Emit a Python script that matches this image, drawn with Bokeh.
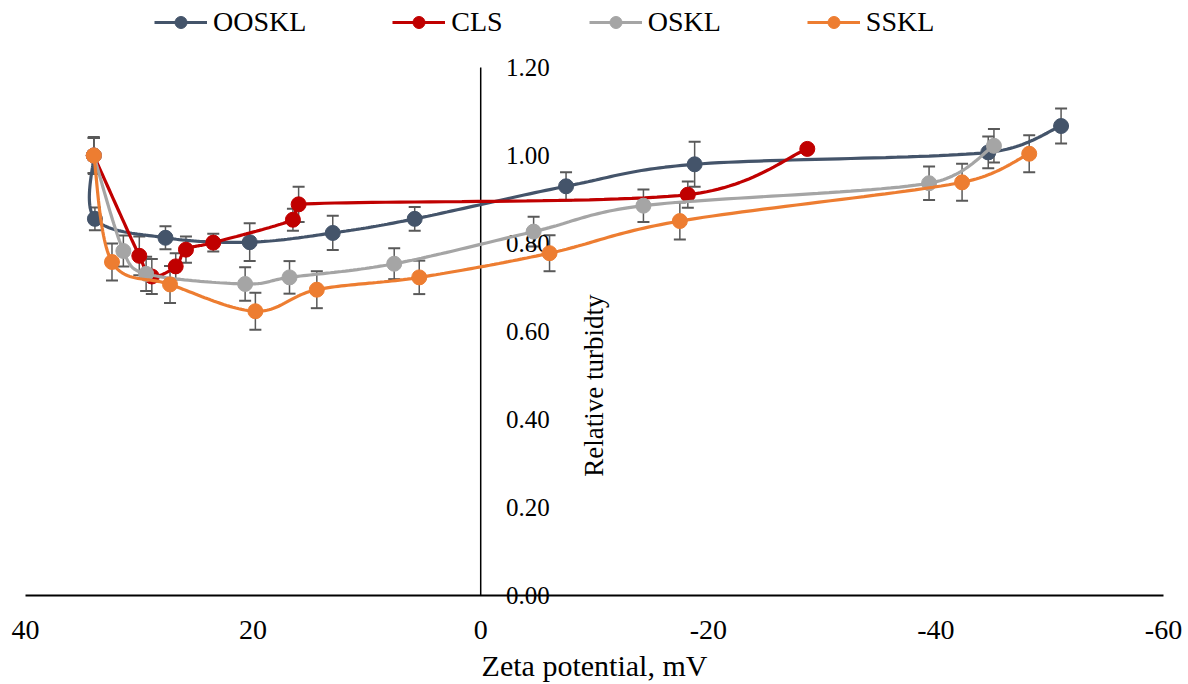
import numpy as np
from bokeh.plotting import figure
from bokeh.models import (Range1d, Legend, LegendItem,
                          ColumnDataSource, Whisker, TeeHead)
from bokeh.core.properties import value
from bokeh.embed import file_html
from bokeh.resources import INLINE

# ---------------- data ----------------
series_names = ["OOSKL", "CLS", "OSKL", "SSKL"]
series_colors = ["#44546A", "#C00000", "#A5A5A5", "#ED7D31"]

ooskl_x = [34.0, 33.9, 27.7, 20.3, 13.0, 5.8, -7.5, -18.8, -44.6, -51.0]
ooskl_y = [1.00, 0.856, 0.813, 0.803, 0.824, 0.856, 0.930, 0.980, 1.007, 1.067]
ooskl_err = [0.042, 0.026, 0.026, 0.043, 0.039, 0.027, 0.032, 0.051, 0.036, 0.040]

cls_x = [34.0, 30.0, 28.9, 26.8, 25.9, 23.5, 16.5, 16.0, -18.2, -28.7]
cls_y = [1.00, 0.772, 0.725, 0.748, 0.786, 0.802, 0.854, 0.889, 0.911, 1.015]
cls_err = [0.040, 0.044, 0.040, 0.030, 0.030, 0.020, 0.025, 0.040, 0.030, 0.0]

oskl_x = [34.0, 31.4, 29.4, 20.7, 16.8, 7.6, -4.65, -14.3, -39.4, -45.1]
oskl_y = [1.00, 0.783, 0.731, 0.708, 0.723, 0.754, 0.827, 0.886, 0.937, 1.022]
oskl_err = [0.040, 0.035, 0.039, 0.038, 0.037, 0.035, 0.034, 0.037, 0.038, 0.038]

sskl_x = [34.0, 32.4, 27.3, 19.8, 14.4, 5.4, -6.05, -17.5, -42.3, -48.2]
sskl_y = [1.00, 0.758, 0.707, 0.646, 0.695, 0.723, 0.778, 0.851, 0.939, 1.004]
sskl_err = [0.040, 0.042, 0.042, 0.042, 0.042, 0.038, 0.041, 0.042, 0.042, 0.042]

x_min, x_max = 40, -60          # axis limits (reversed axis)
y_min, y_max = 0.0, 1.2
x_ticks = [40, 20, 0, -20, -40, -60]
x_tick_labels = ["40", "20", "0", "-20", "-40", "-60"]
y_ticks = [0.0, 0.2, 0.4, 0.6, 0.8, 1.0, 1.2]
y_tick_labels = ["0.00", "0.20", "0.40", "0.60", "0.80", "1.00", "1.20"]

x_title = "Zeta potential, mV"
y_title = "Relative turbidty"

FONT = "Liberation Serif"

# ---------------- layout (pixels) ----------------
W, H = 1188, 684
PL, PR, PT, PB = 25, 25, 67, 89     # plot area inside the canvas
sx_per = (W - PL - PR) / (x_min - x_max)
sy_per = (H - PT - PB) / (y_max - y_min)
xr = Range1d(x_min + PL / sx_per, x_max - PR / sx_per)
yr = Range1d(y_min - PB / sy_per, y_max + PT / sy_per)


def smooth(xs, ys, n=30, kx=sx_per, ky=sy_per):
    """Excel-like smoothed line: cubic Bezier with 1/6 tangents,
    limited to half of the segment length (in screen units) to avoid loops."""
    P = np.column_stack([np.asarray(xs, float) * kx, np.asarray(ys, float) * ky])
    m = len(P)
    out = [P[0]]
    t = np.linspace(0, 1, n)[1:, None]

    def lim(v, seg_len):
        L = np.hypot(*v)
        cap = 0.5 * seg_len
        return v * (cap / L) if L > cap and L > 0 else v

    for i in range(m - 1):
        p0 = P[i - 1] if i > 0 else P[i]
        p1 = P[i]
        p2 = P[i + 1]
        p3 = P[i + 2] if i + 2 < m else P[i + 1]
        seg_len = np.hypot(*(p2 - p1))
        c1 = p1 + lim((p2 - p0) / 6.0, seg_len)
        c2 = p2 - lim((p3 - p1) / 6.0, seg_len)
        seg = ((1 - t) ** 3) * p1 + 3 * ((1 - t) ** 2) * t * c1 \
            + 3 * (1 - t) * t ** 2 * c2 + t ** 3 * p2
        out.extend(seg)
    out = np.array(out)
    return out[:, 0] / kx, out[:, 1] / ky


p = figure(width=W, height=H, x_range=xr, y_range=yr,
           output_backend="svg", toolbar_location=None,
           x_axis_location=None, y_axis_location=None,
           min_border=0, min_border_left=0, min_border_right=0,
           min_border_top=0, min_border_bottom=0)
p.xgrid.visible = False
p.ygrid.visible = False
p.outline_line_color = None
p.background_fill_color = "white"
p.border_fill_color = "white"

# horizontal axis at y = 0
p.segment(x0=[x_min], y0=[0], x1=[x_max], y1=[0], line_color="black", line_width=2)
p.text(x=x_ticks, y=[0] * len(x_ticks), text=x_tick_labels, y_offset=34,
       text_align="center", text_baseline="middle",
       text_font=value(FONT), text_font_size="28px", text_color="black")
p.text(x=[(x_min + x_max) / 2], y=[0], text=[x_title], y_offset=70,
       text_align="center", text_baseline="middle",
       text_font=value(FONT), text_font_size="30px", text_color="black")

# vertical axis crossing at x = 0
p.segment(x0=[0], y0=[y_min], x1=[0], y1=[y_max], line_color="black", line_width=1.5)
p.text(x=[0] * len(y_ticks), y=y_ticks, text=y_tick_labels, x_offset=69,
       text_align="right", text_baseline="middle",
       text_font=value(FONT), text_font_size="25px", text_color="black")
p.text(x=[0], y=[0.477], text=[y_title], x_offset=113, angle=np.pi / 2,
       text_align="center", text_baseline="middle",
       text_font=value(FONT), text_font_size="27px", text_color="black")

all_x = [ooskl_x, cls_x, oskl_x, sskl_x]
all_y = [ooskl_y, cls_y, oskl_y, sskl_y]
all_e = [ooskl_err, cls_err, oskl_err, sskl_err]

items = []
for name, col, xs, ys, es in zip(series_names, series_colors, all_x, all_y, all_e):
    src = ColumnDataSource(dict(x=xs, y=ys,
                                upper=[a + b for a, b in zip(ys, es)],
                                lower=[a - b for a, b in zip(ys, es)]))
    w = Whisker(source=src, base="x", upper="upper", lower="lower",
                line_color="#595959", line_width=1.5,
                upper_head=TeeHead(size=12, line_color="#595959", line_width=2),
                lower_head=TeeHead(size=12, line_color="#595959", line_width=2))
    p.add_layout(w)
    sx, sy = smooth(xs, ys)
    lr = p.line(sx, sy, line_color=col, line_width=3.2)
    sr = p.scatter("x", "y", source=src, size=15, fill_color=col, line_color=col)
    items.append(LegendItem(label=name, renderers=[lr, sr]))

legend = Legend(items=items, orientation="horizontal", location=(154, H - 38),
                label_text_font=FONT, label_text_font_size="28px",
                label_text_color="black",
                glyph_width=53, glyph_height=30, label_standoff=6, spacing=86,
                padding=0, margin=0, border_line_color=None,
                background_fill_alpha=0)
p.add_layout(legend)

open("out.html", "w").write(file_html(p, INLINE))
